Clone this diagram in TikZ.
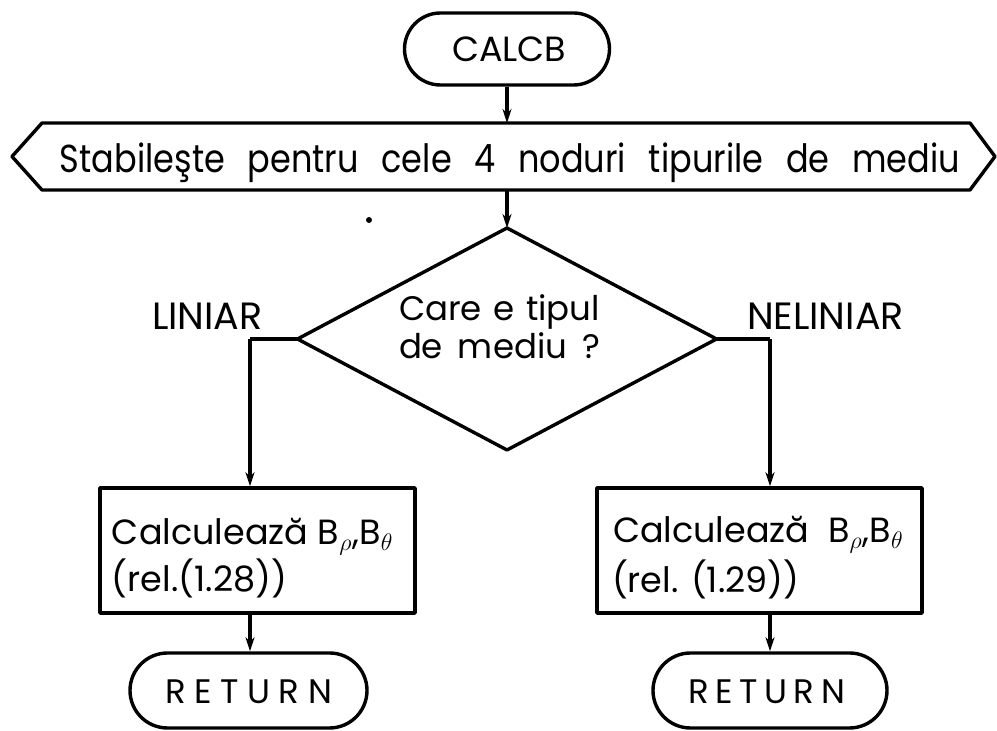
\documentclass[tikz,border=0pt]{standalone}
\usepackage{fontspec}
\setmainfont{Poppins}
\newfontfamily\condfont[FakeStretch=0.86]{Poppins}
\usetikzlibrary{shapes.misc,arrows.meta}
\begin{document}
\begin{tikzpicture}[x=0.5pt,y=-0.5pt,
  ln/.style={line width=1.7pt, line join=round},
  arr/.style={ln,-{Stealth[length=7pt,width=4.5pt]}},
  term/.style={draw,ln,rounded rectangle,inner sep=0pt,minimum height=37.5pt},
  procbox/.style={draw,ln,rectangle,inner sep=0pt,minimum height=62.5pt},
  ghost/.style={inner sep=0pt,outer sep=0pt},
  lbl/.style={inner sep=0pt,outer sep=0pt,anchor=base west}
]
\useasboundingbox (0,0) rectangle (997,731);

% start terminal
\node[term,minimum width=102.5pt,minimum height=36pt] (calcb) at (507,49)
  {\fontsize{17.5}{19}\selectfont\makebox[55pt][s]{C\hfill A\hfill L\hfill C\hfill B}};

% hexagon (preparation)
\node[ghost,minimum width=464pt,minimum height=33.5pt] (hex) at (506,156.5) {};
\draw[ln] (hex.north west) -- (hex.north east) -- ([xshift=12.5pt]hex.east)
  -- (hex.south east) -- (hex.south west) -- ([xshift=-15pt]hex.west) -- cycle;
\node[lbl] (hextext) at (60,173)
  {\condfont\fontsize{19.5}{22}\selectfont\makebox[450pt][s]{Stabileşte pentru cele 4 noduri tipurile de mediu}};

% decision
\node[ghost,minimum width=209.5pt,minimum height=111pt] (dec) at (507,339) {};
\draw[ln] (dec.north) -- (dec.east) -- (dec.south) -- (dec.west) -- cycle;
\node[lbl] (dect1) at (399,321) {\fontsize{17}{19}\selectfont\makebox[100.5pt][s]{Care e tipul}};
\node[lbl] (dect2) at (399,359) {\fontsize{17}{19}\selectfont\makebox[100.5pt][s]{de mediu ?}};

% branch labels
\node[lbl] (liniar) at (152,330) {\fontsize{19}{22}\selectfont LINIAR};
\node[lbl] (neliniar) at (747,330) {\fontsize{19}{22}\selectfont NELINIAR};

% process boxes
\node[procbox,minimum width=157.5pt] (lb) at (257.5,550.5) {};
\node[lbl] (lbt1) at (112,545) {\fontsize{17.5}{20}\selectfont Calculează B$_\rho$,B$_\theta$};
\node[lbl] (lbt2) at (112,592) {\fontsize{17.5}{20}\selectfont (rel.(1.28))};

\node[procbox,minimum width=162.5pt] (rb) at (759.5,550.5) {};
\node[lbl] (rbt1) at (613,543) {\fontsize{17.5}{20}\selectfont Calculează\ \ B$_\rho$,B$_\theta$};
\node[lbl] (rbt2) at (612,593) {\fontsize{17.5}{20}\selectfont (rel. (1.29))};

% return terminals
\node[term,minimum width=118.5pt] (lret) at (248.5,690.5) {};
\node[lbl] (lrett) at (165,704) {\fontsize{17}{19}\selectfont\makebox[83.5pt][s]{R\hfill E\hfill T\hfill U\hfill R\hfill N}};
\node[term,minimum width=117pt] (rret) at (770,690.5) {};
\node[lbl] (rrett) at (688,704) {\fontsize{17}{19}\selectfont\makebox[78.5pt][s]{R\hfill E\hfill T\hfill U\hfill R\hfill N}};

% stray dot
\fill (369,220) circle[radius=3];

% connectors
\coordinate (L) at (250,339);
\coordinate (R) at (770,339);
\draw[arr] (calcb.south) -- (calcb.south |- hex.north);
\draw[arr] (hex.south -| dec.north) -- (dec.north);
\draw[ln] (dec.west) -- (L);
\draw[arr] (L) -- (L |- lb.north);
\draw[ln] (dec.east) -- (R);
\draw[arr] (R) -- (R |- rb.north);
\draw[arr] (L |- lb.south) -- (L |- lret.north);
\draw[arr] (R |- rb.south) -- (R |- rret.north);
\end{tikzpicture}
\end{document}
